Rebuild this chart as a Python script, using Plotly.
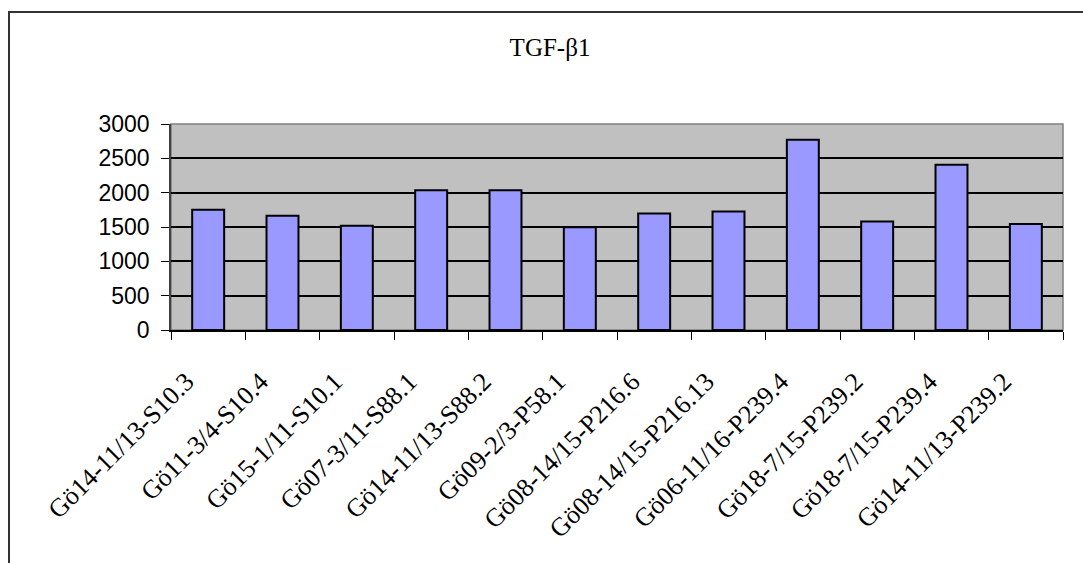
import plotly.graph_objects as go

# TGF-β1 levels per sample
samples = [
    "Gö14-11/13-S10.3", "Gö11-3/4-S10.4", "Gö15-1/11-S10.1", "Gö07-3/11-S88.1",
    "Gö14-11/13-S88.2", "Gö09-2/3-P58.1", "Gö08-14/15-P216.6", "Gö08-14/15-P216.13",
    "Gö06-11/16-P239.4", "Gö18-7/15-P239.2", "Gö18-7/15-P239.4", "Gö14-11/13-P239.2",
]
tgf_b1 = [1750, 1665, 1520, 2035, 2035, 1495, 1695, 1725, 2770, 1580, 2405, 1545]
y_ticks = [0, 500, 1000, 1500, 2000, 2500, 3000]

W, H = 1083, 563
L, R, T, B = 171, 20, 124, 233

fig = go.Figure(
    go.Bar(
        x=samples,
        y=tgf_b1,
        marker=dict(color="#9999FF", line=dict(color="black", width=2)),
    )
)

fig.update_layout(
    width=W,
    height=H,
    margin=dict(l=L, r=R, t=T, b=B, pad=0),
    paper_bgcolor="white",
    plot_bgcolor="#C0C0C0",
    bargap=0.57,
    showlegend=False,
    title=dict(
        text="TGF-β1",
        x=550 / W,
        xanchor="center",
        y=1 - 47 / H,
        yanchor="middle",
        font=dict(family="Liberation Serif", size=25, color="black"),
    ),
    shapes=[
        # outer chart-area border (continues past the right and bottom edges)
        dict(type="rect", xref="paper", yref="paper",
             x0=(9 - L) / (W - L - R), x1=1.2,
             y0=-1.2, y1=1 + (T - 12) / (H - T - B),
             line=dict(color="#333333", width=2), fillcolor="rgba(0,0,0,0)",
             layer="below"),
        # plot frame: grey top and right edges
        dict(type="rect", xref="paper", yref="paper", x0=0, x1=1, y0=0, y1=1,
             line=dict(color="#808080", width=1.5), fillcolor="rgba(0,0,0,0)",
             layer="below"),
    ],
)

fig.update_xaxes(
    type="category",
    range=[-0.5, len(samples) - 0.5],
    tickangle=-45,
    tickson="boundaries",
    ticks="outside",
    ticklen=8,
    tickcolor="black",
    tickwidth=1,
    showline=True,
    linecolor="black",
    linewidth=2,
    showgrid=False,
    ticklabelstandoff=24,
    ticklabelshift=-22,
    tickfont=dict(family="Liberation Serif", size=26, color="black"),
)

fig.update_yaxes(
    range=[0, 3000],
    tickvals=y_ticks,
    ticks="outside",
    ticklen=8,
    tickcolor="black",
    tickwidth=1,
    showline=True,
    linecolor="#404040",
    linewidth=1.5,
    showgrid=True,
    gridcolor="black",
    gridwidth=1.5,
    zeroline=False,
    ticklabelstandoff=7,
    tickfont=dict(family="Liberation Sans", size=23, color="black"),
)

fig.write_html("out.html")
